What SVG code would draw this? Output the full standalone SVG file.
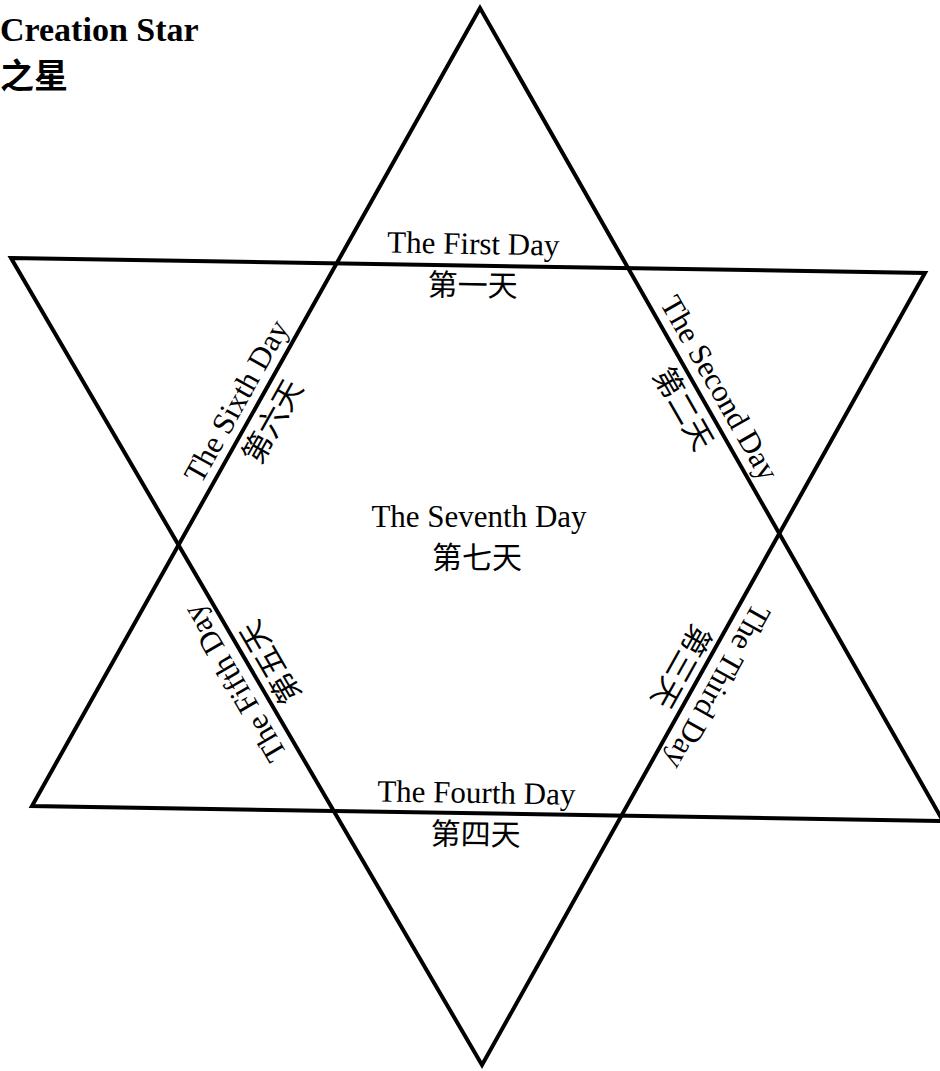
<svg xmlns="http://www.w3.org/2000/svg" width="940" height="1071" viewBox="0 0 940 1071">
<style>
.en{font-family:"Liberation Serif","Times New Roman",serif;font-size:31px;fill:#000;text-anchor:middle}
.zh{font-family:"Liberation Serif","Noto Sans CJK SC",serif;font-size:30px;fill:#000;text-anchor:middle}
.tri{fill:none;stroke:#000;stroke-width:4;stroke-linejoin:miter;stroke-miterlimit:10}
.ttlen{font-family:"Liberation Serif","Times New Roman",serif;font-weight:700;fill:#000}
.ttlzh{font-family:"Noto Sans CJK SC",sans-serif;font-weight:700;fill:#000}
</style>
<rect width="940" height="1071" fill="#fff"/>
<g id="connectors">
<polygon class="tri" points="480,8 32,806 943,821"/>
<polygon class="tri" points="11,258 925,273 482,1065"/>
</g>
<g id="title">
<text class="ttlen" x="0" y="41" font-size="34">Creation Star</text>
<text class="ttlzh" x="0" y="88" font-size="34">之星</text>
</g>
<g id="day1" transform="translate(473,264) rotate(1)">
<text class="en" x="0" y="-10">The First Day</text>
<text class="zh" x="0" y="32">第一天</text>
</g>
<g id="day2" transform="translate(702,398) rotate(60.34)">
<text class="en" x="0" y="-10">The Second Day</text>
<text class="zh" x="0" y="32">第二天</text>
</g>
<g id="day3" transform="translate(700,677) rotate(119.2)">
<text class="en" x="0" y="-10">The Third Day</text>
<text class="zh" x="0" y="32">第三天</text>
</g>
<g id="day4" transform="translate(476,813) rotate(0.94)">
<text class="en" x="0" y="-10">The Fourth Day</text>
<text class="zh" x="0" y="32">第四天</text>
</g>
<g id="day5" transform="translate(252,673) rotate(-120.24)">
<text class="en" x="0" y="-10">The Fifth Day</text>
<text class="zh" x="0" y="32">第五天</text>
</g>
<g id="day6" transform="translate(254,411) rotate(-60.69)">
<text class="en" x="0" y="-10">The Sixth Day</text>
<text class="zh" x="0" y="32">第六天</text>
</g>
<g id="day7">
<text class="en" x="479" y="527">The Seventh Day</text>
<text class="zh" x="477" y="568">第七天</text>
</g>
</svg>
